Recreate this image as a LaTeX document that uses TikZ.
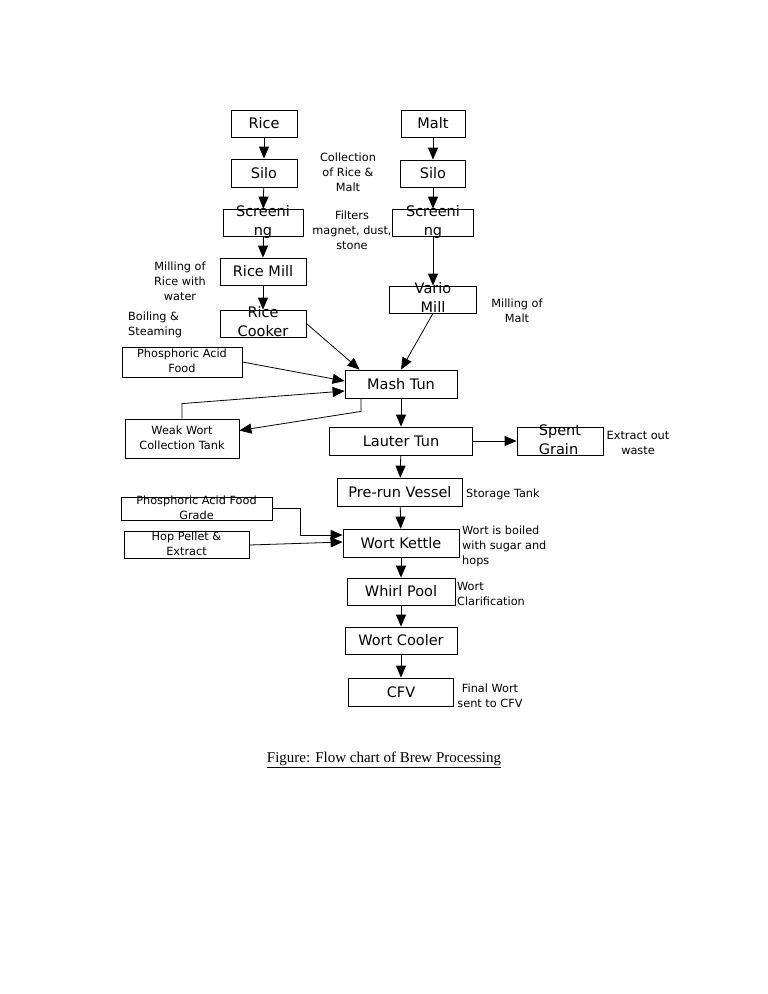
\documentclass[tikz,border=0pt]{standalone}
\usepackage{fontspec}
\setmainfont{DejaVu Sans}
\newfontfamily\captionserif{Liberation Serif}
\usetikzlibrary{arrows.meta}
\newcommand{\overrun}[3][c]{\smash{\raisebox{-0.25em}{\begin{tabular}{@{}#1@{}}#2\\#3\end{tabular}}}}
\begin{document}
\begin{tikzpicture}[x=1pt,y=-1pt,
    stage/.style={draw, line width=0.8pt, inner sep=0pt, font=\fontsize{14.5}{19}\selectfont},
    feed/.style={draw, line width=0.8pt, inner sep=0pt, font=\fontsize{11.3}{15}\selectfont},
    note/.style={inner sep=0pt, align=center, font=\fontsize{11.3}{15}\selectfont},
    flow/.style={line width=0.8pt, -{Triangle[width=10pt,length=12pt]}}]
      \useasboundingbox (0,0) rectangle (768,994);
      %%%%%%%%%%%%%%%%%%%%%%%%%%%%%%%%%%%%%%%%%%%%%%%
      \node[stage, minimum width=66, minimum height=27] at (264,123.5) (rice)     {Rice};
      \node[stage, minimum width=66, minimum height=28] at (264,173)   (silo1)    {Silo};
      \node[stage, minimum width=80, minimum height=27] at (263,222.5) (screen1)  {\overrun{Screeni}{ng}};
      \node[stage, minimum width=86, minimum height=27] at (263,271.5) (ricemill) {Rice Mill};
      \node[stage, minimum width=86, minimum height=27] at (263,323.5) (cooker)   {\overrun{Rice}{Cooker}};
      \draw[flow] (rice) -- (silo1);
      \draw[flow] (silo1) -- (screen1);
      \draw[flow] (screen1) -- (ricemill);
      \draw[flow] (ricemill) -- (cooker);
      %%%%%%%%%%%%%%%%%%%%%%%%%%%%%%%%%%%%%%%%%%%%%%%
      \node[stage, minimum width=64, minimum height=27] at (433,123.5) (malt)    {Malt};
      \node[stage, minimum width=65, minimum height=27] at (433,173.5) (silo2)   {Silo};
      \node[stage, minimum width=81, minimum height=27] at (433,222.5) (screen2) {\overrun{Screeni}{ng}};
      \node[stage, minimum width=87, minimum height=27] at (433,299.5) (vario)   {\overrun{Vario}{Mill}};
      \draw[flow] (malt) -- (silo2);
      \draw[flow] (silo2) -- (screen2);
      \draw[flow] (screen2) -- (vario);
      %%%%%%%%%%%%%%%%%%%%%%%%%%%%%%%%%%%%%%%%%%%%%%%
      \node[note] at (348,172) (n1) {Collection\\of Rice \&\\Malt};
      \node[note] at (352,230) (n2) {Filters\\magnet, dust,\\stone};
      \node[note] at (180,281) (n3) {Milling of\\Rice with\\water};
      \node[note, anchor=west, align=left] at (128,325) (n4) {Boiling \&\\Steaming};
      \node[note] at (517,311) (n5) {Milling of\\Malt};
      %%%%%%%%%%%%%%%%%%%%%%%%%%%%%%%%%%%%%%%%%%%%%%%
      \node[feed, minimum width=120, minimum height=30] at (182,362)   (phos1)  {\overrun{Phosphoric Acid}{Food}};
      \node[stage, minimum width=112, minimum height=28] at (401,384)  (mash)   {Mash Tun};
      \node[feed, minimum width=114, minimum height=39] at (182,438.5) (weak)   {\overrun{Weak Wort}{Collection Tank}};
      \node[stage, minimum width=143, minimum height=28] at (401,441)  (lauter) {Lauter Tun};
      \node[stage, minimum width=86, minimum height=28] at (560,441)   (spent)  {\overrun[l]{Spent}{Grain}\hspace{26pt}};
      \node[note] at (638,443) (n6) {Extract out\\waste};
      \draw[flow] (cooker.east) -- ([xshift=15pt]mash.north west);
      \draw[flow] (vario.south) -- (mash.north);
      \draw[flow] (phos1.east) -- ([yshift=3pt]mash.west);
      \draw[flow] (weak.north) -- ++(0,-15) -- ([yshift=-7pt]mash.west);
      \draw[flow] ([xshift=-40pt]mash.south) -- ++(0,13) -- ([yshift=8pt]weak.east);
      \draw[flow] (mash) -- (lauter);
      \draw[flow] (lauter) -- (spent);
      %%%%%%%%%%%%%%%%%%%%%%%%%%%%%%%%%%%%%%%%%%%%%%%
      \node[stage, minimum width=125, minimum height=28] at (400,492) (prerun) {Pre-run Vessel};
      \node[note, anchor=west] at (466,494) (n7) {Storage Tank};
      \node[feed, minimum width=151, minimum height=23] at (196.5,508.5) (phos2) {\overrun{Phosphoric Acid Food}{Grade}};
      \node[feed, minimum width=125, minimum height=27] at (186.5,545)   (hop)   {\overrun{Hop Pellet \&}{Extract}};
      \node[stage, minimum width=116, minimum height=28] at (401,543) (kettle) {Wort Kettle};
      \node[note, anchor=west, align=left] at (462,546) (n8) {Wort is boiled\\with sugar and\\hops};
      \draw[flow] (lauter) -- (prerun);
      \draw[flow] (prerun) -- (kettle);
      \draw[flow] (phos2.east) -- ++(28,0) |- ([yshift=8pt]kettle.west);
      \draw[flow] (hop.east) -- ([yshift=1pt]kettle.west);
      %%%%%%%%%%%%%%%%%%%%%%%%%%%%%%%%%%%%%%%%%%%%%%%
      \node[stage, minimum width=108, minimum height=27] at (401,591.5) (whirl)  {Whirl Pool};
      \node[note, anchor=west, align=left] at (457,594) (n9) {Wort\\Clarification};
      \node[stage, minimum width=112, minimum height=27] at (401,640.5) (cooler) {Wort Cooler};
      \node[stage, minimum width=105, minimum height=28] at (401,692)   (cfv)    {CFV};
      \node[note] at (490,696) (n10) {Final Wort\\sent to CFV};
      \draw[flow] (kettle) -- (whirl);
      \draw[flow] (whirl) -- (cooler);
      \draw[flow] (cooler) -- (cfv);
      %%%%%%%%%%%%%%%%%%%%%%%%%%%%%%%%%%%%%%%%%%%%%%%
      \node[font=\captionserif\fontsize{15}{17}\selectfont] at (384,760) (caption) {\underline{Figure: Flow chart of Brew Processing}};
      %%%%%%%%%%%%%%%%%%%%%%%%%%%%%%%%%%%%%%%%%%%%%%%
\end{tikzpicture}
\end{document}
